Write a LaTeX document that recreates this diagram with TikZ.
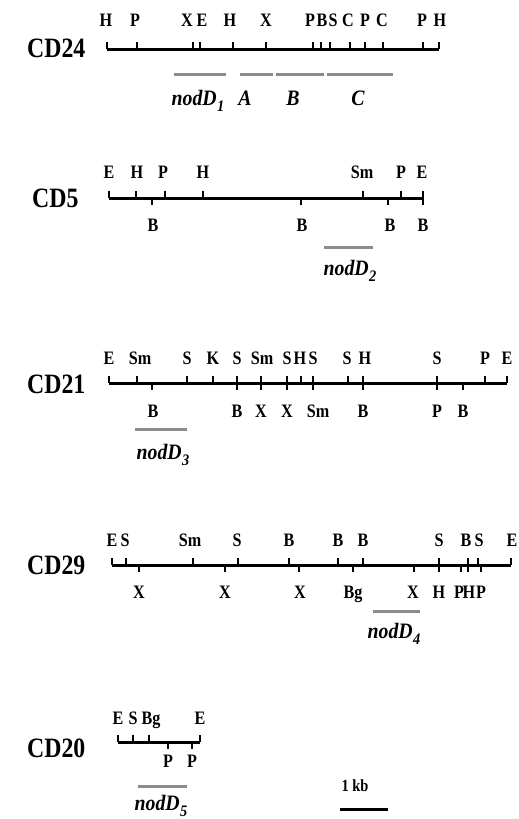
\documentclass[tikz,border=0pt]{standalone}
\usepackage{fontspec}
\newfontfamily\labfont[FakeStretch=0.85]{Liberation Serif}
\newfontfamily\genefont[FakeStretch=0.9]{Liberation Serif}
\begin{document}
\begin{tikzpicture}[x=1pt,y=-1pt,
  mainline/.style={line width=3pt},
  tick/.style={line width=2pt},
  site/.style={inner sep=0pt,anchor=base,font=\labfont\bfseries\fontsize{19}{19}\selectfont},
  maplabel/.style={inner sep=0pt,anchor=west,font=\labfont\bfseries\fontsize{28}{28}\selectfont},
  genebar/.style={line width=3pt,black!45},
  gene/.style={inner sep=0pt,anchor=base,font=\genefont\bfseries\itshape\fontsize{22}{22}\selectfont},
]
\useasboundingbox (0,0) rectangle (519,819);
\newcommand\gsub[1]{\kern0.5pt\raisebox{-6pt}{\fontsize{16}{16}\selectfont #1}}

% ---------------- CD24
\node[maplabel] (cd24) at (27,48) {CD24};
\draw[mainline] (107,49) -- (439,49);
\foreach \t in {107,137,193,200,233,266,313,321,330,350,365,383,423,439}
  \draw[tick] (\t,49) -- ++(0,-7);
\foreach \x/\l [count=\i] in {106/H,135/P,187/X,202/E,230/H,266/X,310/P,322/B,333/S,348/C,365/P,382/C,422/P,440/H}
  \node[site] (s24-\i) at (\x,27) {\l};
\draw[genebar] (174,74) -- (226,74);
\draw[genebar] (240,74) -- (273,74);
\draw[genebar] (276,74) -- (324,74);
\draw[genebar] (327,74) -- (393,74);
\node[gene] (g1) at (198,105) {nodD\gsub{1}};
\node[gene] (gA) at (245,105) {A};
\node[gene] (gB) at (293,105) {B};
\node[gene] (gC) at (358,105) {C};

% ---------------- CD5
\node[maplabel] (cd5) at (32,198) {CD5};
\draw[mainline] (109,198) -- (423,198);
\foreach \t in {109,136,165,203,363,401,423}
  \draw[tick] (\t,198) -- ++(0,-7);
\foreach \t in {152,301,388,423}
  \draw[tick] (\t,198) -- ++(0,7);
\foreach \x/\l [count=\i] in {109/E,137/H,163/P,203/H,362/Sm,401/P,422/E}
  \node[site] (s5a-\i) at (\x,178) {\l};
\foreach \x/\l [count=\i] in {153/B,302/B,390/B,423/B}
  \node[site] (s5b-\i) at (\x,231) {\l};
\draw[genebar] (324,247) -- (373,247);
\node[gene] (g2) at (350,275) {nodD\gsub{2}};

% ---------------- CD21
\node[maplabel] (cd21) at (27,384) {CD21};
\draw[mainline] (109,383) -- (507,383);
\foreach \t in {109,137,187,213,237,261,287,301,313,348,363,437,485,507}
  \draw[tick] (\t,383) -- ++(0,-7);
\foreach \t in {152,237,261,287,313,363,437,463}
  \draw[tick] (\t,383) -- ++(0,7);
\foreach \x/\l [count=\i] in {109/E,140/Sm,187/S,213/K,237/S,262/Sm,287/S,300/H,313/S,347/S,365/H,437/S,485/P,507/E}
  \node[site] (s21a-\i) at (\x,364) {\l};
\foreach \x/\l [count=\i] in {153/B,237/B,261/X,287/X,318/Sm,363/B,437/P,463/B}
  \node[site] (s21b-\i) at (\x,417) {\l};
\draw[genebar] (135,429) -- (187,429);
\node[gene] (g3) at (163,459) {nodD\gsub{3}};

% ---------------- CD29
\node[maplabel] (cd29) at (27,565) {CD29};
\draw[mainline] (112,565) -- (511,565);
\foreach \t in {112,126,193,238,289,338,363,439,468,478,511}
  \draw[tick] (\t,565) -- ++(0,-7);
\foreach \t in {139,225,299,353,414,439,461,468,481}
  \draw[tick] (\t,565) -- ++(0,7);
\foreach \x/\l [count=\i] in {112/E,125/S,190/Sm,237/S,289/B,338/B,363/B,439/S,466/B,479/S,512/E}
  \node[site] (s29a-\i) at (\x,546) {\l};
\foreach \x/\l [count=\i] in {139/X,225/X,300/X,353/Bg,413/X,439/H,459/P,469/H,481/P}
  \node[site] (s29b-\i) at (\x,598) {\l};
\draw[genebar] (373,611) -- (420,611);
\node[gene] (g4) at (394,638) {nodD\gsub{4}};

% ---------------- CD20
\node[maplabel] (cd20) at (27,748) {CD20};
\draw[mainline] (118,742) -- (200,742);
\foreach \t in {118,133,149,200}
  \draw[tick] (\t,742) -- ++(0,-7);
\foreach \t in {168,192}
  \draw[tick] (\t,742) -- ++(0,7);
\foreach \x/\l [count=\i] in {118/E,133/S,151/Bg,200/E}
  \node[site] (s20a-\i) at (\x,724) {\l};
\foreach \x/\l [count=\i] in {168/P,192/P}
  \node[site] (s20b-\i) at (\x,767) {\l};
\draw[genebar] (138,786) -- (187,786);
\node[gene] (g5) at (161,810) {nodD\gsub{5}};

% ---------------- scale bar
\node[inner sep=0pt,font=\labfont\bfseries\fontsize{17}{17}\selectfont] (kb) at (355,786) {1 kb};
\coordinate (sbL) at (340,809);
\coordinate (sbR) at (388,809);
\draw[mainline] (sbL) -- (sbR);
\end{tikzpicture}
\end{document}
